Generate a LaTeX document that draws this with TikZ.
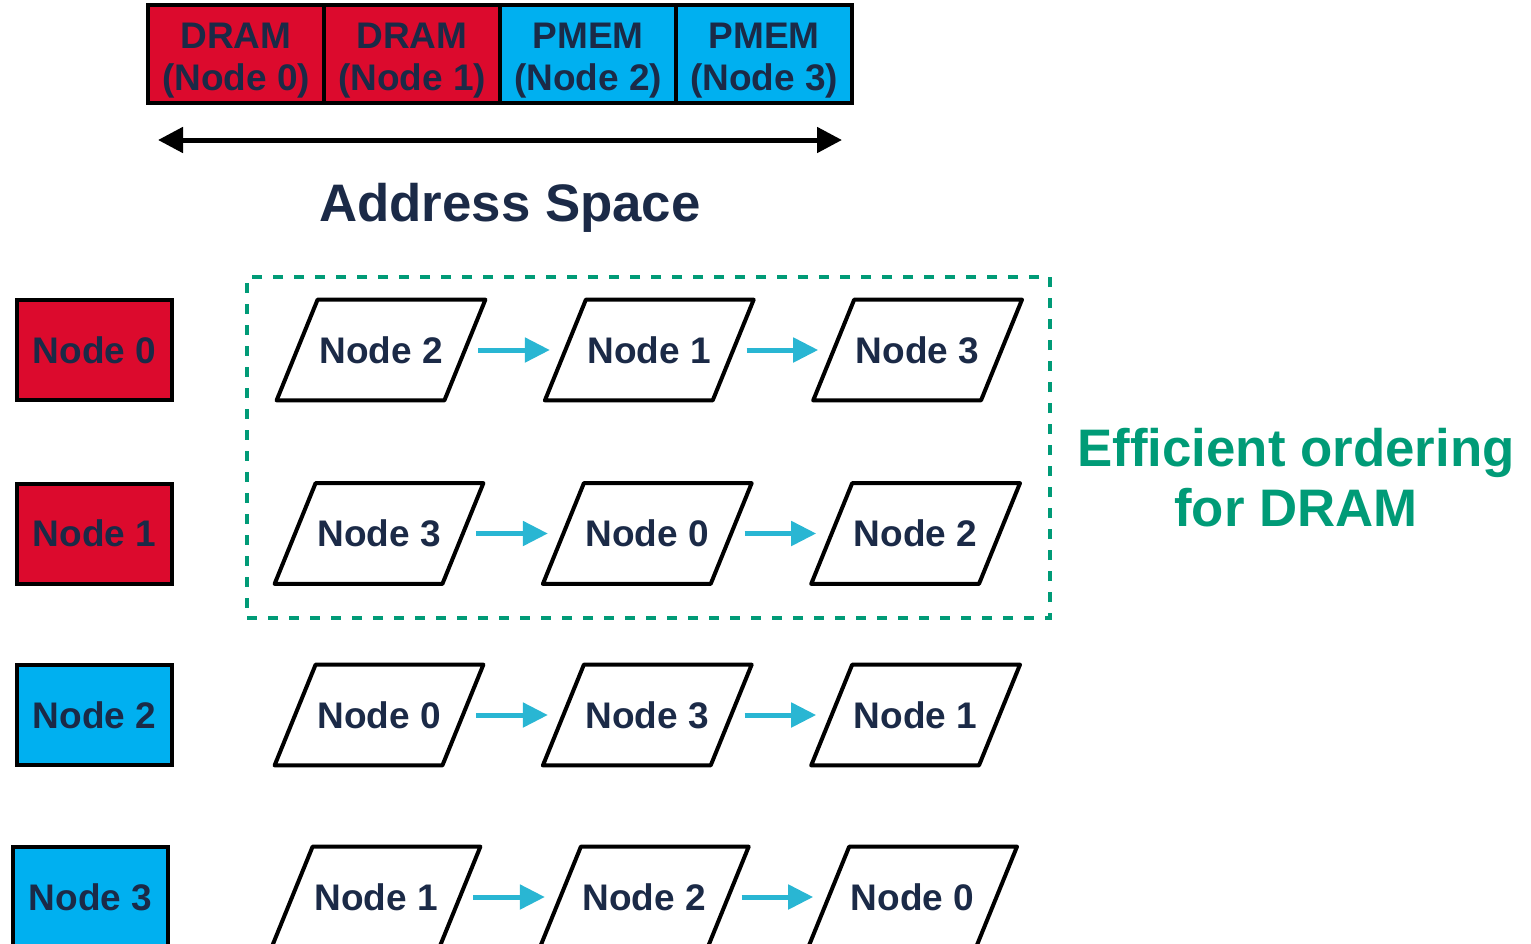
\documentclass[tikz,border=0pt]{standalone}
\usepackage{fontspec}
\setmainfont{Liberation Sans}
\usepackage{xcolor}
\usetikzlibrary{arrows.meta, positioning, fit}
\definecolor{dramred}{HTML}{DC0A2D}
\definecolor{pmemblue}{HTML}{00B0F0}
\definecolor{textnavy}{HTML}{1B2A47}
\definecolor{flowcyan}{HTML}{29B6D3}
\definecolor{effgreen}{HTML}{009B77}

\begin{document}
\begin{tikzpicture}[x=0.5pt, y=-0.5pt]
    % Block styles
    \tikzstyle{mem} = [rectangle, draw, line width=2pt, outer sep=0pt, inner sep=0pt, minimum width=88pt, minimum height=49pt]
    \tikzstyle{memtext} = [align=center, text=textnavy, font=\fontsize{18.5}{21}\selectfont\bfseries, yshift=-3.5pt]
    \tikzstyle{numa} = [rectangle, draw, line width=2pt, inner sep=0pt, minimum width=77.5pt, minimum height=50pt, text=textnavy, font=\fontsize{18.5}{21}\selectfont\bfseries]
    \tikzstyle{order} = [rectangle, inner sep=0pt, minimum width=104pt, minimum height=50pt, text=textnavy, font=\fontsize{18.5}{21}\selectfont\bfseries]
    \tikzstyle{outline} = [line width=2pt, line join=round]
    \tikzstyle{flow} = [draw=flowcyan, line width=2.5pt, -{Triangle[length=12.5pt, width=12pt]}]
    \tikzstyle{dashbox} = [draw=effgreen, line width=2pt, dash pattern=on 5pt off 5.5pt]
    \useasboundingbox (0,0) rectangle (1531,943);

    % Address space
    \node[mem, fill=dramred, label={[memtext]center:DRAM\\(Node 0)}] (dram0) at (236,54) {};
    \node[mem, fill=dramred, right=0pt of dram0, label={[memtext]center:DRAM\\(Node 1)}] (dram1) {};
    \node[mem, fill=pmemblue, right=0pt of dram1, label={[memtext]center:PMEM\\(Node 2)}] (pmem2) {};
    \node[mem, fill=pmemblue, right=0pt of pmem2, label={[memtext]center:PMEM\\(Node 3)}] (pmem3) {};
    \coordinate (addr_left) at (158,140);
    \coordinate (addr_right) at (842,140);
    \draw[line width=2.5pt, {Triangle[length=12.5pt, width=12.5pt]}-{Triangle[length=12.5pt, width=12.5pt]}] (addr_left) -- (addr_right);
    \node[text=textnavy, font=\fontsize{26.4}{30}\selectfont\bfseries] (addr_label) at (510,208) {Address Space};

    % NUMA nodes
    \node[numa, fill=dramred] (numa0) at (94.5,350) {Node 0};
    \node[numa, fill=dramred] (numa1) at (94.5,533.5) {Node 1};
    \node[numa, fill=pmemblue] (numa2) at (94.5,715) {Node 2};
    \node[numa, fill=pmemblue] (numa3) at (90.5,897) {Node 3};

    % Fallback orders
    \node[order] (r0a) at (381,350) {Node 2};
    \node[order, right=29.75pt of r0a] (r0b) {Node 1};
    \node[order, right=29.75pt of r0b] (r0c) {Node 3};
    \node[order] (r1a) at (379,533.5) {Node 3};
    \node[order, right=29.75pt of r1a] (r1b) {Node 0};
    \node[order, right=29.75pt of r1b] (r1c) {Node 2};
    \node[order] (r2a) at (379,715) {Node 0};
    \node[order, right=29.75pt of r2a] (r2b) {Node 3};
    \node[order, right=29.75pt of r2b] (r2c) {Node 1};
    \node[order] (r3a) at (376,897) {Node 1};
    \node[order, right=29.75pt of r3a] (r3b) {Node 2};
    \node[order, right=29.75pt of r3b] (r3c) {Node 0};
    % slanted outlines
    \foreach \n in {r0a,r0b,r0c,r1a,r1b,r1c,r2a,r2b,r2c,r3a,r3b,r3c}
        \draw[outline] ([xshift=20.5pt]\n.north west) -- (\n.north east) -- ([xshift=-20.5pt]\n.south east) -- (\n.south west) -- cycle;

    % Connections
    \draw[flow] ([xshift=-3.5pt]r0a.east) -- ([xshift=2.5pt]r0b.west);
    \draw[flow] ([xshift=-3.5pt]r0b.east) -- ([xshift=2.5pt]r0c.west);
    \draw[flow] ([xshift=-3.5pt]r1a.east) -- ([xshift=2.5pt]r1b.west);
    \draw[flow] ([xshift=-3.5pt]r1b.east) -- ([xshift=2.5pt]r1c.west);
    \draw[flow] ([xshift=-3.5pt]r2a.east) -- ([xshift=2.5pt]r2b.west);
    \draw[flow] ([xshift=-3.5pt]r2b.east) -- ([xshift=2.5pt]r2c.west);
    \draw[flow] ([xshift=-3.5pt]r3a.east) -- ([xshift=2.5pt]r3b.west);
    \draw[flow] ([xshift=-3.5pt]r3b.east) -- ([xshift=2.5pt]r3c.west);

    \node[dashbox, fit={(247,277) (1050,618)}, inner sep=0pt] (dram_group) {};
    \node[align=center, text=effgreen, font=\fontsize{26.4}{30}\selectfont\bfseries] (dram_label) at (1296,478) {Efficient ordering\\for DRAM};
\end{tikzpicture}
\end{document}
